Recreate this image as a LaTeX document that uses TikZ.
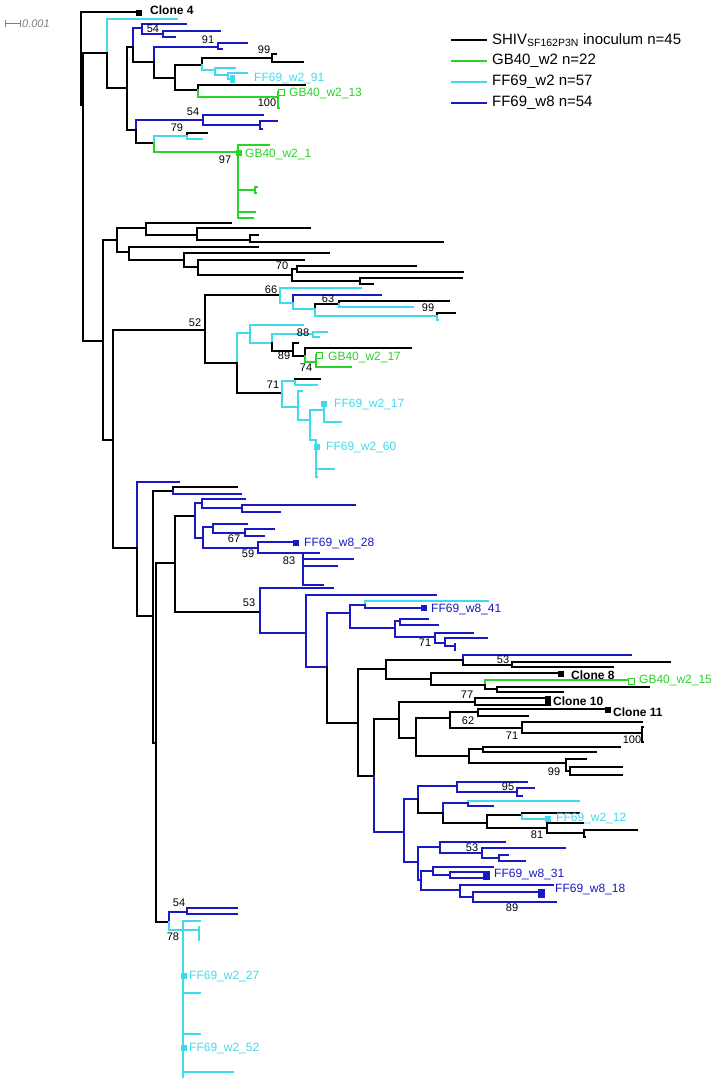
\documentclass[tikz,border=0pt]{standalone}
\usepackage{fontspec}
\setmainfont{Liberation Sans}
\usepackage{tikz}
\usetikzlibrary{shapes,calc}
\definecolor{gbgreen}{RGB}{40,212,40}
\definecolor{ffcyan}{RGB}{64,218,236}
\definecolor{ffblue}{RGB}{24,24,196}
\tikzset{
  br/.style = {line width=2.2pt, line cap=rect, line join=miter},
  br_k/.style = {br, black},
  br_g/.style = {br, gbgreen},
  br_c/.style = {br, ffcyan},
  br_b/.style = {br, ffblue},
  mk/.style = {rectangle, inner sep=0pt, minimum size=6.5pt},
  mk_k/.style = {mk, fill=black},
  mk_g/.style = {mk, draw=gbgreen, fill=white, line width=1pt, minimum size=6pt},
  mk_gf/.style = {mk, fill=gbgreen},
  mk_c/.style = {mk, fill=ffcyan},
  mk_b/.style = {mk, fill=ffblue},
  tx/.style = {anchor=west, inner sep=0pt, font=\fontsize{12}{14}\selectfont},
  tx_k/.style = {tx, font=\fontsize{12}{14}\selectfont\bfseries},
  tx_g/.style = {tx, text=gbgreen},
  tx_c/.style = {tx, text=ffcyan},
  tx_b/.style = {tx, text=ffblue},
  bs/.style = {inner sep=0pt, font=\fontsize{11}{12}\selectfont},
  lg/.style = {anchor=west, inner sep=0pt, font=\fontsize{15}{17}\selectfont}
}
\newcommand{\tbr}[5][k]{\coordinate (#3) at (#4,#5); \draw[br_#1] (#2) |- (#3);}

\begin{document}
\begin{tikzpicture}[x=1pt,y=-1pt]
\useasboundingbox (0,0) rectangle (722,1085);

\draw[gray, line width=0.8pt] (5,20) -- (5,27) (5,23.5) -- (20,23.5) (20,20) -- (20,27);
\node[bs, anchor=west, text=gray, font=\fontsize{11}{12}\selectfont\itshape] (scl) at (22,24) {0.001};

\coordinate (r) at (81,58);
\tbr{r}{c4}{137}{12}
\tbr{r}{a}{83}{105}
\tbr{a}{b}{107}{53}
\tbr[c]{b}{t1}{177}{19}
\tbr{b}{d}{127}{88}
\tbr{d}{e}{133}{47}
\tbr[b]{e}{h}{142}{28}
\tbr[b]{h}{t2}{186}{24}
\tbr[b]{h}{h1}{163}{34}
\tbr[b]{h1}{t3}{220}{31}
\tbr[b]{h1}{t4}{175}{37}
\tbr{e}{i}{154}{62}
\tbr[b]{i}{i1}{218}{47}
\tbr[b]{i1}{t5}{247}{43}
\tbr[b]{i1}{t6}{222}{49}
\tbr{i}{j}{175}{78}
\tbr{j}{k}{202}{65}
\tbr{k}{k1}{272}{58}
\tbr{k1}{t7}{276}{54}
\tbr{k1}{t8}{303}{62}
\tbr[c]{k}{k2}{215}{70}
\tbr[c]{k2}{t9}{235}{68}
\tbr[c]{k2}{k3}{228}{75}
\tbr[c]{k3}{t10}{247}{73}
\tbr[c]{k3}{t11}{232}{79}
\tbr{j}{l}{198}{90}
\tbr{l}{t12}{305}{85}
\tbr[g]{l}{m}{278}{97}
\tbr[g]{m}{t13}{280}{92}
\tbr[g]{m}{t14}{279}{108}
\tbr{d}{g}{136}{130}
\tbr[b]{g}{p}{203}{120}
\tbr[b]{p}{t15}{263}{115}
\tbr[b]{p}{q}{260}{125}
\tbr[b]{q}{t16}{277}{121}
\tbr[b]{q}{t17}{262}{129}
\tbr{g}{n}{154}{143}
\tbr[c]{n}{o}{187}{136}
\tbr{o}{t18}{207}{133}
\tbr[c]{o}{t19}{202}{139}
\tbr[g]{n}{s}{238}{152}
\tbr[g]{s}{t20}{269}{145}
\tbr[g]{s}{s1}{255}{190}
\tbr[g]{s1}{t22}{257}{187}
\tbr[g]{s1}{t23}{256}{193}
\tbr[g]{s}{t24}{255}{212}
\tbr[g]{s}{t25}{253}{218}

\tbr{a}{n103}{103}{341}
\tbr{n103}{u}{117}{240}
\tbr{u}{v}{146}{228}
\tbr{v}{t26}{231}{223}
\tbr{v}{w}{197}{235}
\tbr{w}{t27}{310}{228}
\tbr{w}{x1}{250}{240}
\tbr{x1}{t28}{258}{235}
\tbr{x1}{t29}{443}{242}
\tbr{u}{y1}{129}{252}
\tbr{y1}{t30}{258}{247}
\tbr{y1}{y2}{184}{260}
\tbr{y2}{t31}{329}{253}
\tbr{y2}{z}{198}{267}
\tbr{z}{t32}{304}{260}
\tbr{z}{z1}{292}{275}
\tbr{z1}{z2}{297}{269}
\tbr{z2}{t33}{416}{266}
\tbr{z2}{t34}{463}{272}
\tbr{z1}{z3}{360}{281}
\tbr{z3}{t35}{462}{278}
\tbr{z3}{t36}{373}{284}

\tbr{n103}{n113}{113}{440}
\tbr{n113}{m52}{205}{330}
\tbr{m52}{m66}{280}{295}
\tbr[c]{m66}{t37}{361}{288}
\tbr[c]{m66}{aa}{293}{303}
\tbr[b]{aa}{t38}{381}{295}
\tbr[c]{aa}{ab}{315}{309}
\tbr{ab}{ac}{339}{304}
\tbr{ac}{t39}{449}{301}
\tbr[c]{ac}{t40}{413}{307}
\tbr[c]{ab}{ad}{437}{316}
\tbr{ad}{t41}{455}{313}
\tbr[c]{ad}{t42}{438}{320}
\tbr{m52}{ae}{237}{363}
\tbr[c]{ae}{af}{250}{333}
\tbr[c]{af}{t43}{303}{325}
\tbr[c]{af}{ag}{272}{343}
\tbr[c]{ag}{ag1}{313}{334}
\tbr[c]{ag1}{t44}{327}{332}
\tbr[c]{ag1}{t45}{319}{337}
\tbr{ag}{m89}{293}{351}
\tbr{m89}{t46}{298}{343}
\tbr{m89}{ai}{305}{356}
\tbr{ai}{t47}{411}{348}
\tbr[g]{ai}{aj}{316}{362}
\tbr[g]{aj}{t48}{318}{355}
\tbr[g]{aj}{t49}{351}{367}
\tbr{ae}{ak}{282}{393}
\tbr[c]{ak}{al}{295}{381}
\tbr{al}{t50}{320}{379}
\tbr[c]{al}{t51}{317}{385}
\tbr[c]{ak}{am}{298}{407}
\tbr[c]{am}{t52}{302}{391}
\tbr[c]{am}{an}{310}{420}
\tbr[c]{an}{ao}{324}{410}
\tbr[c]{ao}{t53}{324}{404}
\tbr[c]{ao}{t54}{341}{422}
\tbr[c]{an}{ap}{316}{440}
\tbr[c]{ap}{t55}{317}{447}
\tbr[c]{ap}{t56}{334}{469}
\tbr[c]{ap}{t57}{317}{477}

\tbr{n113}{n137}{137}{548}
\tbr[b]{n137}{t58}{179}{482}
\tbr{n137}{n153}{153}{616}
\tbr{n153}{n173}{173}{491}
\tbr{n173}{t59}{237}{487}
\tbr[b]{n173}{t60}{241}{494}
\tbr{n153}{n156}{156}{743}
\tbr{n156}{n175}{175}{563}
\tbr{n175}{n195}{195}{516}
\tbr[b]{n195}{n202}{202}{503}
\tbr[b]{n202}{t61}{245}{499}
\tbr[b]{n202}{n242}{242}{508}
\tbr[b]{n242}{t62}{355}{505}
\tbr[b]{n242}{t63}{280}{512}
\tbr[b]{n195}{n203}{203}{538}
\tbr[b]{n203}{n213}{213}{527}
\tbr[b]{n213}{t64}{247}{524}
\tbr[b]{n213}{n245}{245}{533}
\tbr[b]{n245}{t65}{274}{529}
\tbr[b]{n245}{t66}{264}{536}
\tbr[b]{n203}{m59}{258}{548}
\tbr[b]{m59}{t67}{294}{542}
\tbr[b]{m59}{m83}{303}{553}
\tbr[b]{m83}{t68}{319}{553}
\tbr[b]{m83}{t69}{353}{559}
\tbr[b]{m83}{t70}{337}{566}
\tbr[b]{m83}{t71}{323}{585}

\tbr{n175}{m53}{260}{612}
\tbr[b]{m53}{t72}{333}{588}
\tbr[b]{m53}{n306}{306}{633}
\tbr[b]{n306}{t73}{436}{595}
\tbr[b]{n306}{n327}{327}{667}
\tbr[b]{n327}{n350}{350}{613}
\tbr[b]{n350}{n365}{365}{605}
\tbr[c]{n365}{t74}{488}{601}
\tbr[b]{n365}{t75}{423}{608}
\tbr[b]{n350}{n395}{395}{628}
\tbr[b]{n395}{n400}{400}{621}
\tbr[b]{n400}{t76}{428}{619}
\tbr[b]{n400}{t77}{438}{625}
\tbr[b]{n395}{n435}{435}{637}
\tbr[b]{n435}{t78}{473}{633}
\tbr[b]{n435}{n445}{445}{643}
\tbr[b]{n445}{t79}{487}{638}
\tbr[b]{n445}{n455}{455}{646}
\tbr[b]{n455}{t80}{455}{644}
\tbr[b]{n455}{t80b}{455}{650}

\tbr{n327}{n358}{358}{723}
\tbr{n358}{n386}{386}{669}
\tbr{n386}{n463}{463}{660}
\tbr[b]{n463}{t81}{631}{655}
\tbr{n463}{n512}{512}{665}
\tbr{n512}{t82}{670}{662}
\tbr{n512}{t83}{613}{667}
\tbr{n386}{n431}{431}{679}
\tbr{n431}{t84}{560}{673}
\tbr{n431}{n485}{485}{685}
\tbr[g]{n485}{t85}{627}{680}
\tbr{n485}{n497}{497}{689}
\tbr{n497}{t86}{649}{687}
\tbr{n497}{t87}{563}{692}
\tbr{n358}{n374}{374}{776}
\tbr{n374}{n399}{399}{719}
\tbr{n399}{m77}{475}{702}
\tbr{m77}{t88}{547}{698}
\tbr{m77}{t89}{547}{705}
\tbr{n399}{n416}{416}{738}
\tbr{n416}{m62}{450}{718}
\tbr{m62}{n478}{478}{712}
\tbr{n478}{t90}{607}{709}
\tbr{n478}{t91}{528}{716}
\tbr{m62}{m71}{522}{728}
\tbr{m71}{t92}{642}{722}
\tbr{m71}{m100}{642}{733}
\tbr{m100}{t93}{643}{727}
\tbr{m100}{t94}{643}{742}
\tbr{n416}{n469}{469}{756}
\tbr{n469}{n483}{483}{749}
\tbr{n483}{t95}{620}{747}
\tbr{n483}{t96}{596}{752}
\tbr{n469}{m99}{566}{763}
\tbr{m99}{t97}{586}{759}
\tbr{m99}{n570}{570}{771}
\tbr{n570}{t98}{622}{767}
\tbr{n570}{t99}{622}{775}

\tbr[b]{n374}{n404}{404}{832}
\tbr[b]{n404}{n418}{418}{799}
\tbr[b]{n418}{n457}{457}{786}
\tbr[b]{n457}{t100}{527}{782}
\tbr[b]{n457}{m95}{517}{792}
\tbr[b]{m95}{t101}{534}{788}
\tbr[b]{m95}{t102}{522}{796}
\tbr{n418}{n443}{443}{813}
\tbr[b]{n443}{n468}{468}{803}
\tbr[c]{n468}{t103}{579}{801}
\tbr[b]{n468}{t104}{493}{806}
\tbr{n443}{n487}{487}{823}
\tbr{n487}{n522}{522}{815}
\tbr{n522}{t105}{579}{813}
\tbr[c]{n522}{t106}{547}{819}
\tbr{n487}{m81}{547}{828}
\tbr{m81}{t107}{583}{823}
\tbr{m81}{n584}{584}{833}
\tbr{n584}{t108}{637}{830}
\tbr{n584}{t109}{585}{837}
\tbr[b]{n404}{n418b}{418}{862}
\tbr[b]{n418b}{n440}{440}{847}
\tbr[b]{n440}{t110}{505}{842}
\tbr[b]{n440}{m53b}{482}{853}
\tbr[b]{m53b}{t111}{565}{848}
\tbr[b]{m53b}{n499}{499}{858}
\tbr[b]{n499}{t112}{508}{855}
\tbr[b]{n499}{t113}{525}{861}
\tbr[b]{n418b}{n421}{421}{880}
\tbr[b]{n421}{n433}{433}{871}
\tbr[b]{n433}{t114}{493}{867}
\tbr[b]{n433}{n450}{450}{875}
\tbr[b]{n450}{t115}{487}{872}
\tbr[b]{n450}{t116}{487}{878}
\tbr[b]{n421}{n460}{460}{890}
\tbr[b]{n460}{t117}{553}{885}
\tbr[b]{n460}{n473}{473}{897}
\tbr[b]{n473}{t118}{541}{892}
\tbr[b]{n473}{t119}{556}{902}

\tbr{n156}{n169}{169}{922}
\tbr[b]{n169}{n187}{187}{912}
\tbr[b]{n187}{t120}{237}{908}
\tbr[b]{n187}{t121}{237}{914}
\tbr[c]{n169}{n183}{183}{930}
\tbr[c]{n183}{t122}{200}{921}
\tbr[c]{n183}{n199}{199}{930}
\tbr[c]{n199}{t123}{199}{927}
\tbr[c]{n199}{t124}{199}{940}
\tbr[c]{n183}{t125}{184}{976}
\tbr[c]{n183}{t126}{200}{993}
\tbr[c]{n183}{t127}{200}{1034}
\tbr[c]{n183}{t128}{184}{1048}
\tbr[c]{n183}{t129}{233}{1072}
\tbr[c]{n183}{t130}{183}{1077}

\node[mk_k] (q4) at (139,13) {};
\node[tx_k] (lc4) at (150,10) {Clone 4};
\node[mk_c, minimum width=5pt, minimum height=8pt] (q91) at (232,79) {};
\node[tx_c] (l91) at (254,78) {FF69\_w2\_91};
\node[mk_g] (q13) at (281,92) {};
\node[tx_g] (l13) at (289,93) {GB40\_w2\_13};
\node[mk_gf] (q1) at (239,153) {};
\node[tx_g] (l1) at (245,154) {GB40\_w2\_1};
\node[mk_g] (q17g) at (319,355) {};
\node[tx_g] (l17g) at (328,357) {GB40\_w2\_17};
\node[mk_c] (q17) at (324,404) {};
\node[tx_c] (l17) at (334,404) {FF69\_w2\_17};
\node[mk_c] (q60) at (317,447) {};
\node[tx_c] (l60) at (326,447) {FF69\_w2\_60};
\node[mk_b] (q28) at (296,543) {};
\node[tx_b] (l28) at (304,543) {FF69\_w8\_28};
\node[mk_b] (q41) at (424,608) {};
\node[tx_b] (l41) at (431,609) {FF69\_w8\_41};
\node[mk_k] (q8) at (561,674) {};
\node[tx_k] (lc8) at (571,675) {Clone 8};
\node[mk_g] (q15) at (631,681) {};
\node[tx_g] (l15) at (639,680) {GB40\_w2\_15};
\node[mk_k, minimum width=6pt, minimum height=10pt] (q10) at (548,701) {};
\node[tx_k] (lc10) at (553,701) {Clone 10};
\node[mk_k] (q11) at (608,710) {};
\node[tx_k] (lc11) at (613,712) {Clone 11};
\node[mk_c] (q12) at (548,819) {};
\node[tx_c] (l12) at (556,818) {FF69\_w2\_12};
\node[mk_b, minimum width=7pt, minimum height=9pt] (q31) at (486,875) {};
\node[tx_b] (l31) at (494,874) {FF69\_w8\_31};
\node[mk_b, minimum width=7pt, minimum height=9pt] (q18) at (541,893) {};
\node[tx_b] (l18) at (555,889) {FF69\_w8\_18};
\node[mk_c] (q27) at (184,976) {};
\node[tx_c] (l27) at (189,976) {FF69\_w2\_27};
\node[mk_c] (q52) at (184,1048) {};
\node[tx_c] (l52) at (189,1048) {FF69\_w2\_52};

\node[bs] (v1) at (153,29) {54};
\node[bs] (v2) at (208,40) {91};
\node[bs] (v3) at (264,50) {99};
\node[bs] (v4) at (267,103) {100};
\node[bs] (v5) at (193,112) {54};
\node[bs] (v6) at (177,128) {79};
\node[bs] (v7) at (225,160) {97};
\node[bs] (v8) at (282,266) {70};
\node[bs] (v9) at (271,290) {66};
\node[bs] (v10) at (328,299) {63};
\node[bs] (v11) at (428,308) {99};
\node[bs] (v12) at (195,323) {52};
\node[bs] (v13) at (303,333) {88};
\node[bs] (v14) at (284,356) {89};
\node[bs] (v15) at (306,368) {74};
\node[bs] (v16) at (273,385) {71};
\node[bs] (v17) at (234,539) {67};
\node[bs] (v18) at (248,554) {59};
\node[bs] (v19) at (289,561) {83};
\node[bs] (v20) at (249,603) {53};
\node[bs] (v21) at (425,643) {71};
\node[bs] (v22) at (503,660) {53};
\node[bs] (v23) at (467,695) {77};
\node[bs] (v24) at (468,721) {62};
\node[bs] (v25) at (512,736) {71};
\node[bs] (v26) at (632,740) {100};
\node[bs] (v27) at (554,772) {99};
\node[bs] (v28) at (508,787) {95};
\node[bs] (v29) at (537,835) {81};
\node[bs] (v30) at (472,848) {53};
\node[bs] (v31) at (512,908) {89};
\node[bs] (v32) at (179,903) {54};
\node[bs] (v33) at (173,937) {78};

\draw[br_k] (452,40) -- (486,40) node[lg, right=5pt, black] (lg1) {SHIV\textsubscript{SF162P3N} inoculum n=45};
\draw[br_g] (452,61) -- (486,61) node[lg, right=5pt, black] (lg2) {GB40\_w2 n=22};
\draw[br_c] (452,82) -- (486,82) node[lg, right=5pt, black] (lg3) {FF69\_w2 n=57};
\draw[br_b] (452,103) -- (486,103) node[lg, right=5pt, black] (lg4) {FF69\_w8 n=54};
\end{tikzpicture}
\end{document}
